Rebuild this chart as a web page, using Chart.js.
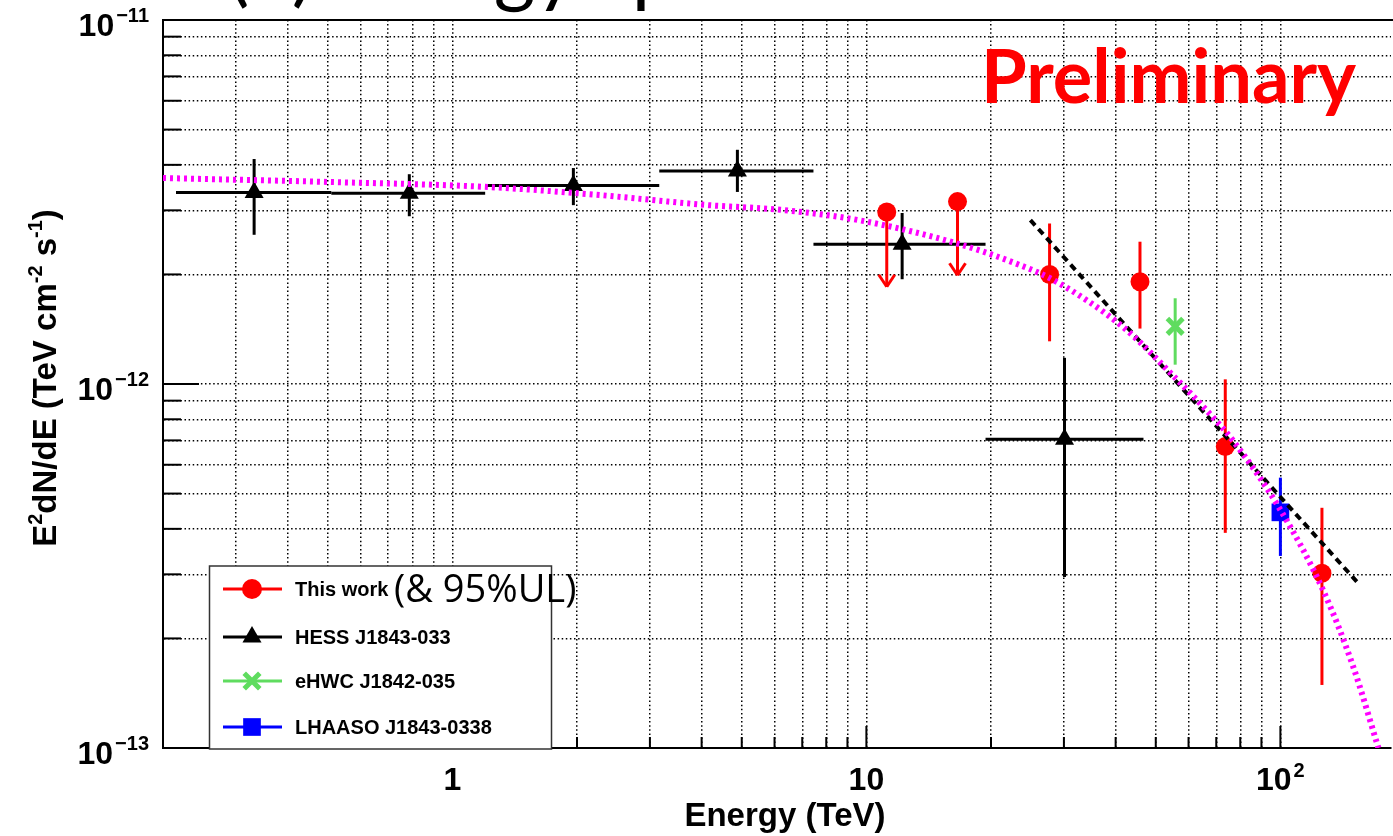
<!DOCTYPE html>
<html>
<head>
<meta charset="utf-8">
<script src="https://cdn.jsdelivr.net/npm/chart.js@4.4.1/dist/chart.umd.min.js"></script>
<style>
  body { margin: 0; background: #fff; }
  canvas { display: block; }
</style>
</head>
<body>
<canvas id="spec" width="1393" height="836"></canvas>
<script>
// values: E in TeV, E^2 dN/dE in TeV cm^-2 s^-1

// this work (points with errors)
const thisWorkE    = [27.7, 45.8, 73.6, 126];
const thisWorkFlux = [2.0e-12, 1.91e-12, 6.73e-13, 3.02e-13];
const thisWorkLo   = [1.31e-12, 1.42e-12, 3.90e-13, 1.49e-13];
const thisWorkHi   = [2.76e-12, 2.46e-12, 1.03e-12, 4.57e-13];

// this work, 95% upper limits
const ulE    = [11.2, 16.6];
const ulFlux = [2.97e-12, 3.17e-12];
const ulTip  = [1.85e-12, 1.99e-12];

// HESS J1843-033
const hessE    = [0.332, 0.787, 1.96, 4.88, 12.2, 30.1];
const hessElo  = [0.215, 0.51, 1.20, 3.16, 7.45, 19.4];
const hessEhi  = [0.51, 1.20, 3.16, 7.45, 19.4, 46.7];
const hessFlux = [3.36e-12, 3.34e-12, 3.51e-12, 3.85e-12, 2.42e-12, 7.05e-13];
const hessLo   = [2.57e-12, 2.89e-12, 3.10e-12, 3.37e-12, 1.94e-12, 2.95e-13];
const hessHi   = [4.15e-12, 3.77e-12, 3.92e-12, 4.40e-12, 2.95e-12, 1.18e-12];

// eHWC J1842-035
const ehwcE    = [55.7];
const ehwcFlux = [1.44e-12];
const ehwcLo   = [1.13e-12];
const ehwcHi   = [1.72e-12];

// LHAASO J1843-0338
const lhaasoE    = [100];
const lhaasoFlux = [4.44e-13];
const lhaasoLo   = [3.37e-13];
const lhaasoHi   = [5.53e-13];

// magenta fitted curve
const fitE    = [0.2, 0.5, 1.2, 2.23, 4.15, 6.2, 9.57, 16.4, 22.8, 28.3, 41.8, 55.5, 67.4, 76.6, 100, 127.6, 150, 172.5];
const fitFlux = [3.68e-12, 3.59e-12, 3.48e-12, 3.31e-12, 3.10e-12, 3.01e-12, 2.82e-12, 2.44e-12, 2.15e-12, 1.93e-12,
                 1.43e-12, 1.045e-12, 8.3e-13, 7.02e-13, 4.51e-13, 2.67e-13, 1.67e-13, 1.0e-13];

// black dashed power law
const plE    = [24.9, 154];
const plFlux = [2.82e-12, 2.84e-13];

// axis ranges and labels
const xMin = 0.2, xMax = 185;
const yMin = 1e-13, yMax = 1e-11;
const xLabelVals = [1, 10, 100];
const xLabelBase = ['1', '10', '10'];
const xLabelExp  = ['', '', '2'];
const yLabelVals = [1e-13, 1e-12, 1e-11];
const yLabelExp  = ['\u221213', '\u221212', '\u221211'];

const legendNames  = ['This work', 'HESS J1843-033', 'eHWC J1842-035', 'LHAASO J1843-0338'];
const legendColors = ['#ff0000', '#000000', '#5fdc5f', '#0000ff'];

// grid positions 1..9 per decade
const xGrid = [], yGrid = [];
for (const d of [0.1, 1, 10, 100]) {
  for (let m = 1; m <= 9; m++) {
    const v = +(m * d).toPrecision(3);
    if (v > xMin && v < xMax) xGrid.push(v);
  }
}
for (const d of [1e-13, 1e-12]) {
  for (let m = 1; m <= 9; m++) {
    const v = +(m * d).toPrecision(3);
    if (v > yMin && v < yMax) yGrid.push(v);
  }
}

const pts = (xs, ys) => xs.map((v, i) => ({x: v, y: ys[i]}));
const BOLD = '"Liberation Sans", Arial, Helvetica, sans-serif';

function line(ctx, x1, y1, x2, y2) {
  ctx.beginPath();
  ctx.moveTo(x1, y1);
  ctx.lineTo(x2, y2);
  ctx.stroke();
}

function supText(ctx, base, exp, x, y, align, size, supSize, raise) {
  ctx.font = 'bold ' + size + 'px ' + BOLD;
  const wb = ctx.measureText(base).width;
  ctx.font = 'bold ' + supSize + 'px ' + BOLD;
  const we = exp ? ctx.measureText(exp).width + 2 : 0;
  const x0 = align === 'right' ? x - wb - we : x - (wb + we) / 2;
  ctx.textAlign = 'left';
  ctx.textBaseline = 'alphabetic';
  ctx.font = 'bold ' + size + 'px ' + BOLD;
  ctx.fillText(base, x0, y);
  if (exp) {
    ctx.font = 'bold ' + supSize + 'px ' + BOLD;
    ctx.fillText(exp, x0 + wb + 2, y - raise);
  }
}

// error bars and UL arrows, drawn under the markers
const errorBars = {
  id: 'errorBars',
  beforeDatasetsDraw(chart) {
    const {ctx} = chart;
    const X = v => chart.scales.x.getPixelForValue(v);
    const Y = v => chart.scales.y.getPixelForValue(v);
    ctx.save();
    ctx.lineWidth = 3;

    ctx.strokeStyle = '#000';
    hessE.forEach((e, i) => {
      const cy = Y(hessFlux[i]);
      line(ctx, X(hessElo[i]), cy, X(hessEhi[i]), cy);
      line(ctx, X(e), Y(hessHi[i]), X(e), Y(hessLo[i]));
    });

    ctx.strokeStyle = '#ff0000';
    thisWorkE.forEach((e, i) => {
      line(ctx, X(e), Y(thisWorkHi[i]), X(e), Y(thisWorkLo[i]));
    });
    ulE.forEach((e, i) => {
      const cx = X(e), tip = Y(ulTip[i]);
      line(ctx, cx, Y(ulFlux[i]), cx, tip);
      line(ctx, cx - 8, tip - 12, cx, tip);
      line(ctx, cx + 8, tip - 12, cx, tip);
    });

    ctx.strokeStyle = '#5fdc5f';
    ehwcE.forEach((e, i) => line(ctx, X(e), Y(ehwcHi[i]), X(e), Y(ehwcLo[i])));

    ctx.strokeStyle = '#0000ff';
    lhaasoE.forEach((e, i) => line(ctx, X(e), Y(lhaasoHi[i]), X(e), Y(lhaasoLo[i])));
    ctx.restore();
  }
};

// ROOT-like frame, inward ticks, labels, titles, legend
const decor = {
  id: 'decor',
  afterDraw(chart) {
    const {ctx, chartArea: a} = chart;
    const X = v => chart.scales.x.getPixelForValue(v);
    const Y = v => chart.scales.y.getPixelForValue(v);
    ctx.save();

    // cut-off panel title at the very top
    ctx.fillStyle = '#000';
    ctx.font = '80px Lato, "Open Sans", sans-serif';
    ctx.textAlign = 'left';
    ctx.textBaseline = 'alphabetic';
    ctx.fillText('(b) Energy spectrum', 228, -3);

    // top frame line
    ctx.strokeStyle = '#000';
    ctx.lineWidth = 2;
    line(ctx, a.left, a.top, 1393, a.top);

    // inward ticks
    ctx.lineWidth = 2;
    xGrid.forEach(v => {
      const len = xLabelVals.includes(v) ? 22 : 11;
      line(ctx, X(v), a.bottom, X(v), a.bottom - len);
    });
    yGrid.forEach(v => {
      const len = yLabelVals.includes(v) ? 36 : 18;
      line(ctx, a.left, Y(v), a.left + len, Y(v));
    });

    // tick labels
    ctx.fillStyle = '#000';
    xLabelVals.forEach((v, i) => supText(ctx, xLabelBase[i], xLabelExp[i], X(v), 790, 'center', 32, 20, 13));
    yLabelVals.forEach((v, i) => supText(ctx, '10', yLabelExp[i], 149, Y(v) + 15.5, 'right', 32, 20, 13.5));

    // x title
    ctx.font = 'bold 33px ' + BOLD;
    ctx.textAlign = 'center';
    ctx.fillText('Energy (TeV)', 785, 826);

    // y title, rotated, with superscripts
    const parts = [['E', 0], ['2', 1], ['dN/dE (TeV cm', 0], ['-2', 1], [' s', 0], ['-1', 1], [')', 0]];
    const big = 'bold 33px ' + BOLD, small = 'bold 20px ' + BOLD;
    let total = 0;
    parts.forEach(p => { ctx.font = p[1] ? small : big; total += ctx.measureText(p[0]).width; });
    ctx.translate(56, 378);
    ctx.rotate(-Math.PI / 2);
    ctx.textAlign = 'left';
    let cx = -total / 2;
    parts.forEach(p => {
      ctx.font = p[1] ? small : big;
      ctx.fillText(p[0], cx, p[1] ? -14 : 0);
      cx += ctx.measureText(p[0]).width;
    });
    ctx.setTransform(1, 0, 0, 1, 0, 0);

    // Preliminary
    ctx.fillStyle = '#ff0000';
    ctx.font = 'bold 74px Lato, "Open Sans", sans-serif';
    ctx.textAlign = 'left';
    ctx.fillText('Preliminary', 981, 103);

    // legend box
    const lx = 209.5, ly = 566, lw = 342, lh = 183;
    ctx.fillStyle = '#fff';
    ctx.fillRect(lx, ly, lw, lh);
    ctx.strokeStyle = '#333';
    ctx.lineWidth = 1.5;
    ctx.strokeRect(lx, ly, lw, lh);

    const rows = [589, 637, 681, 727];
    const styles = [
      {pointStyle: 'circle', radius: 10, borderWidth: 0},
      {pointStyle: 'triangle', radius: 11, borderWidth: 0},
      {pointStyle: 'crossRot', radius: 11, borderWidth: 5},
      {pointStyle: 'rect', radius: 12.5, borderWidth: 0}
    ];
    rows.forEach((ry, i) => {
      ctx.strokeStyle = legendColors[i];
      ctx.fillStyle = legendColors[i];
      ctx.lineWidth = 3;
      line(ctx, 223, ry, 282, ry);
      ctx.lineWidth = styles[i].borderWidth || 1;
      Chart.helpers.drawPoint(ctx, Object.assign({rotation: 0}, styles[i]), 252, ry);
      ctx.fillStyle = '#000';
      ctx.font = 'bold 20px ' + BOLD;
      ctx.textBaseline = 'middle';
      ctx.fillText(legendNames[i], 295, ry + 1);
    });
    ctx.font = '38px "Open Sans", sans-serif';
    ctx.fillText('(& 95%UL)', 394, 591);
    ctx.restore();
  }
};

new Chart(document.getElementById('spec'), {
  type: 'scatter',
  data: {
    datasets: [
      { type: 'line', data: pts(fitE, fitFlux), borderColor: '#ff00ff', borderWidth: 6, borderDash: [3, 4],
        pointRadius: 0, cubicInterpolationMode: 'monotone', fill: false },
      { type: 'line', data: pts(plE, plFlux), borderColor: '#000', borderWidth: 4, borderDash: [7, 5],
        pointRadius: 0, fill: false },
      { data: pts(lhaasoE, lhaasoFlux), pointStyle: 'rect', pointRadius: 12.5, backgroundColor: '#0000ff', borderWidth: 0 },
      { data: pts(ehwcE, ehwcFlux), pointStyle: 'crossRot', pointRadius: 11, borderColor: '#5fdc5f', borderWidth: 5 },
      { data: pts(thisWorkE.concat(ulE), thisWorkFlux.concat(ulFlux)), pointStyle: 'circle', pointRadius: 9.5,
        backgroundColor: '#ff0000', borderWidth: 0 },
      { data: pts(hessE, hessFlux), pointStyle: 'triangle', pointRadius: 11, backgroundColor: '#000', borderWidth: 0 }
    ]
  },
  options: {
    responsive: false,
    animation: false,
    devicePixelRatio: 1,
    layout: { autoPadding: false, padding: { top: 20, right: 2, left: 0, bottom: 0 } },
    plugins: { legend: { display: false }, tooltip: { enabled: false } },
    scales: {
      x: {
        type: 'logarithmic', min: xMin, max: xMax,
        afterBuildTicks: s => { s.ticks = xGrid.map(v => ({value: v})); },
        afterFit: s => { s.height = 88; },
        ticks: { display: false, autoSkip: false },
        grid: { color: '#000', lineWidth: 1.5, drawTicks: false },
        border: { display: true, color: '#000', width: 2, dash: [1.5, 2.6] }
      },
      y: {
        type: 'logarithmic', min: yMin, max: yMax,
        afterBuildTicks: s => { s.ticks = yGrid.map(v => ({value: v})); },
        afterFit: s => { s.width = 163; },
        ticks: { display: false, autoSkip: false },
        grid: { color: '#000', lineWidth: 1.5, drawTicks: false },
        border: { display: true, color: '#000', width: 2, dash: [1.5, 2.6] }
      }
    }
  },
  plugins: [errorBars, decor]
});
</script>
</body>
</html>
